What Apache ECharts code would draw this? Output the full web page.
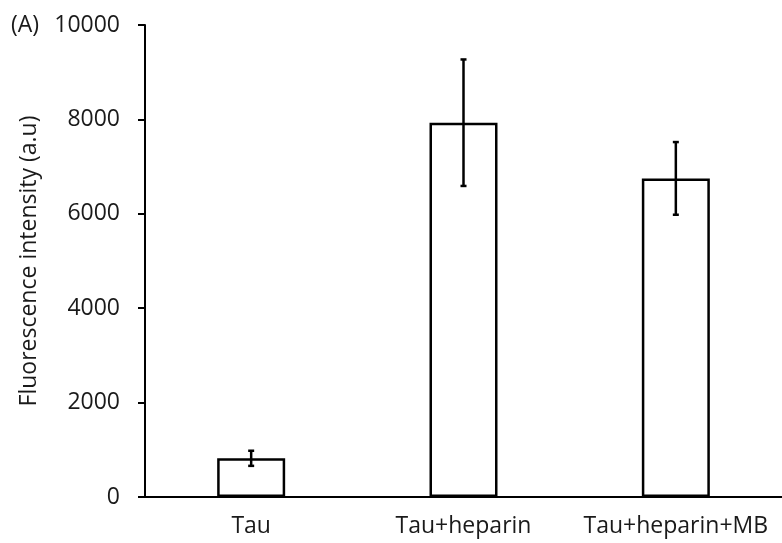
<!DOCTYPE html>
<html>
<head>
<meta charset="utf-8">
<script src="https://cdn.jsdelivr.net/npm/echarts@6/dist/echarts.min.js"></script>
<style>html,body{margin:0;padding:0;background:#fff;}#c{width:782px;height:543px;}</style>
</head>
<body>
<div id="c"></div>
<script>
var categories = ['Tau', 'Tau+heparin', 'Tau+heparin+MB'];
var means = [820, 7930, 6750];
var errors = [160, 1340, 770];
var yTicks = [0, 2000, 4000, 6000, 8000, 10000];

var FONT = '"Open Sans", sans-serif';
var TXT = '#1a1a1a';
var FS = 23;
var chart = echarts.init(document.getElementById('c'));
var errData = categories.map(function (c, i) { return [i, means[i] - errors[i], means[i] + errors[i]]; });

chart.setOption({
  animation: false,
  backgroundColor: '#fff',
  grid: { left: 145, right: -8, top: 25, bottom: 46, containLabel: false },
  graphic: [{ type: 'text', left: 11, top: 14, style: { text: '(A)', fontSize: FS, fontFamily: FONT, fill: TXT } }],
  xAxis: {
    type: 'category', data: categories,
    axisLine: { lineStyle: { color: '#000', width: 2 } },
    axisTick: { show: false },
    axisLabel: { color: TXT, fontSize: FS, fontFamily: FONT, margin: 18, interval: 0 }
  },
  yAxis: {
    type: 'value', min: yTicks[0], max: yTicks[yTicks.length - 1], interval: 2000,
    name: 'Fluorescence intensity (a.u)', nameLocation: 'middle', nameGap: 104,
    nameTextStyle: { color: TXT, fontSize: FS, fontFamily: FONT },
    splitLine: { show: false },
    axisLine: { show: true, lineStyle: { color: '#000', width: 2 } },
    axisTick: { show: true, length: 7, lineStyle: { color: '#000', width: 2 } },
    axisLabel: { color: TXT, fontSize: FS, fontFamily: FONT, margin: 25, formatter: function (v) { return String(v); } }
  },
  series: [{
    type: 'bar', data: means, barWidth: 68,
    itemStyle: { color: '#fff', borderColor: '#000', borderWidth: 2.5 }
  }, {
    type: 'custom', data: errData, z: 10,
    renderItem: function (params, api) {
      var x = api.value(0);
      var lo = api.coord([x, api.value(1)]);
      var hi = api.coord([x, api.value(2)]);
      var cw = 3;
      var st = { stroke: '#000', lineWidth: 2.5 };
      return { type: 'group', children: [
        { type: 'line', shape: { x1: lo[0], y1: lo[1], x2: hi[0], y2: hi[1] }, style: st },
        { type: 'line', shape: { x1: lo[0] - cw, y1: lo[1], x2: lo[0] + cw, y2: lo[1] }, style: st },
        { type: 'line', shape: { x1: hi[0] - cw, y1: hi[1], x2: hi[0] + cw, y2: hi[1] }, style: st }
      ] };
    }
  }]
});
</script>
</body>
</html>
